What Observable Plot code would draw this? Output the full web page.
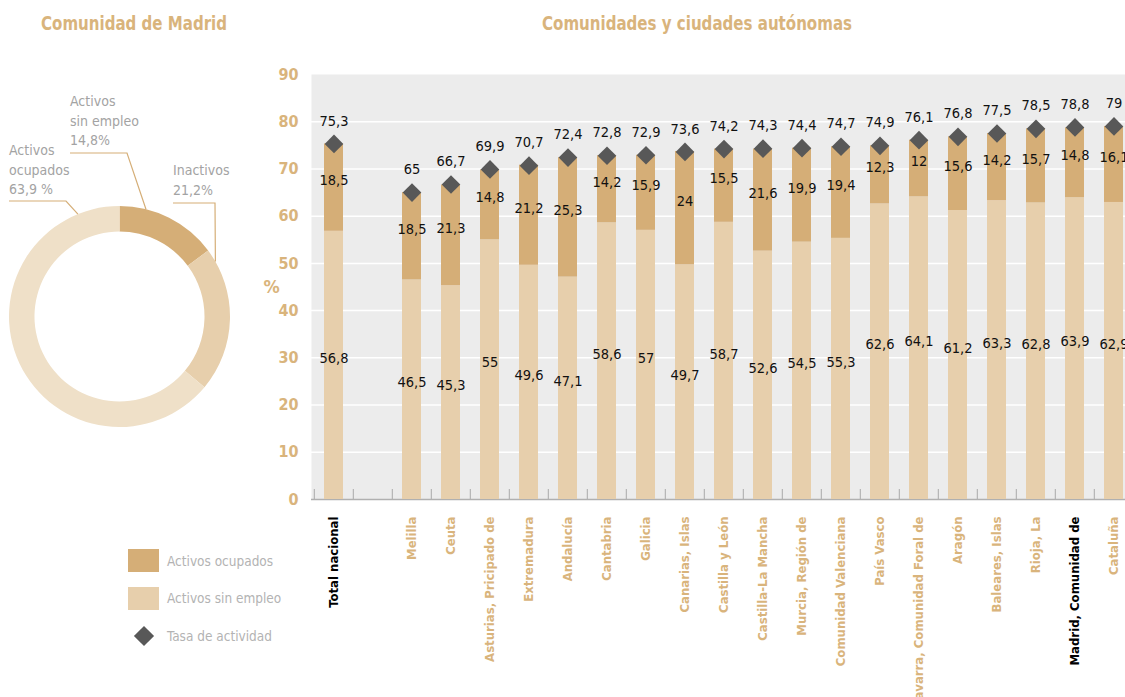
<!DOCTYPE html>
<html><head><meta charset="utf-8">
<script src="https://cdn.jsdelivr.net/npm/d3@7"></script>
<script src="https://cdn.jsdelivr.net/npm/@observablehq/plot@0.6"></script>
<style>
body{margin:0;background:#fff;}
#wrap{position:relative;width:1125px;height:697px;overflow:hidden;font-family:"Liberation Sans Narrow","Arial Narrow","DejaVu Sans Condensed",sans-serif;}
#chart{position:absolute;left:0;top:0;}
#overlay{position:absolute;left:0;top:0;}
</style></head><body>
<div id="wrap"><div id="chart"></div><svg id="overlay" width="1125" height="697"></svg></div>
<script>
// ---- data ----
const regions = ["Total nacional","Melilla","Ceuta","Asturias, Pricipado de","Extremadura","Andalucía","Cantabria","Galicia","Canarias, Islas","Castilla y León","Castilla-La Mancha","Murcia, Región de","Comunidad Valenciana","País Vasco","Navarra, Comunidad Foral de","Aragón","Baleares, Islas","Rioja, La","Madrid, Comunidad de","Cataluña"];
const ocupados  = [56.8,46.5,45.3,55,49.6,47.1,58.6,57,49.7,58.7,52.6,54.5,55.3,62.6,64.1,61.2,63.3,62.8,63.9,62.9];
const sinEmpleo = [18.5,18.5,21.3,14.8,21.2,25.3,14.2,15.9,24,15.5,21.6,19.9,19.4,12.3,12,15.6,14.2,15.7,14.8,16.1];
const tasa      = [75.3,65,66.7,69.9,70.7,72.4,72.8,72.9,73.6,74.2,74.3,74.4,74.7,74.9,76.1,76.8,77.5,78.5,78.8,79];
const highlighted = ["Total nacional","Madrid, Comunidad de"];
const GAP = " ";
const yTicks = [0,10,20,30,40,50,60,70,80,90];
const donutLabels = ["Activos sin empleo","Inactivos","Activos ocupados"];
const donutValues = [14.8,21.2,63.9];
const donutText = [["Activos","sin empleo","14,8%"],["Inactivos","21,2%"],["Activos","ocupados","63,9 %"]];
const legendLabels = ["Activos ocupados","Activos sin empleo","Tasa de actividad"];
const titles = ["Comunidad de Madrid","Comunidades y ciudades autónomas"];

// ---- style ----
const FONT = '"Liberation Sans Narrow","Arial Narrow","DejaVu Sans Condensed",sans-serif';
const TAN = "#d9b47c";
const DARK = "#d5ae77", LIGHT = "#e7cfac", LIGHTEST = "#efe0c8";
const fmt = v => String(v).replace(".", ",");

const xDomain = [regions[0], GAP, ...regions.slice(1)];
const rows = regions.flatMap((r,i)=>[
  {region:r, serie:"ocupados", value:ocupados[i]},
  {region:r, serie:"sin empleo", value:sinEmpleo[i]}
]);
const pts = regions.map((r,i)=>({region:r, tasa:tasa[i]}));
const W = 1136, ML = 311;
const step = (W - ML) / xDomain.length;

const chart = Plot.plot({
  width: W, height: 697,
  marginLeft: ML, marginRight: 0, marginTop: 74, marginBottom: 198,
  style: {maxWidth: "none", fontFamily: FONT, background: "transparent", overflow: "visible"},
  x: {domain: xDomain, paddingInner: 0.52, paddingOuter: 0.26, axis: null},
  y: {domain: [0, 90], axis: null},
  color: {domain: ["ocupados","sin empleo"], range: [LIGHT, DARK]},
  marks: [
    Plot.frame({fill: "#ececec", stroke: null}),
    Plot.gridY(yTicks.slice(1, -1), {stroke: "#fff", strokeOpacity: 1, strokeWidth: 1.5}),
    Plot.ruleX(xDomain, {x: d => d, dx: -step/2, y1: 0, y2: 2.1, stroke: "#b4b4b4", strokeWidth: 1.2}),
    Plot.ruleY([0], {stroke: "#b0b0b0", strokeWidth: 1.5}),
    Plot.barY(rows, {x: "region", y: "value", fill: "serie"}),
    Plot.text(rows, Plot.stackY({x: "region", y: "value", text: d => fmt(d.value), dy: -7, fontSize: 14.5, fill: "#111"})),
    Plot.dot(pts, {x: "region", y: "tasa", symbol: "diamond2", r: 8.4, fill: "#585858", stroke: null}),
    Plot.text(pts, {x: "region", y: "tasa", text: d => fmt(d.tasa), dy: -23, fontSize: 14.5, fill: "#111"}),
    Plot.axisY(yTicks, {tickSize: 0, tickPadding: 13, fontSize: 16, fontWeight: "bold", color: TAN, label: null}),
    Plot.text(["%"], {frameAnchor: "left", dx: -48, fontSize: 18, fontWeight: "bold", fill: TAN}),
    Plot.text(xDomain.filter(d => !highlighted.includes(d)), {x: d => d, frameAnchor: "bottom", dy: 17, rotate: -90, textAnchor: "end", lineAnchor: "middle", fontSize: 13, fontWeight: "bold", fill: TAN}),
    Plot.text(highlighted, {x: d => d, frameAnchor: "bottom", dy: 17, rotate: -90, textAnchor: "end", lineAnchor: "middle", fontSize: 13, fontWeight: "bold", fill: "#000"})
  ]
});
document.getElementById("chart").appendChild(chart);

// ---- overlay: titles, donut, legend ----
const svg = d3.select("#overlay").style("font-family", FONT);
svg.append("text").attr("x", 134).attr("y", 30).attr("text-anchor", "middle")
  .attr("font-size", 19).attr("font-weight", "bold").attr("fill", TAN)
  .attr("textLength", 186).attr("lengthAdjust", "spacingAndGlyphs").text(titles[0]);
svg.append("text").attr("x", 697).attr("y", 30).attr("text-anchor", "middle")
  .attr("font-size", 19).attr("font-weight", "bold").attr("fill", TAN)
  .attr("textLength", 310).attr("lengthAdjust", "spacingAndGlyphs").text(titles[1]);

const cx = 119.5, cy = 316.5, rOut = 110.5, rIn = 85;
const donutData = donutLabels.map((l,i)=>({label:l, value:donutValues[i]}));
const arcs = d3.pie().sort(null).value(d => d.value)(donutData);
const arc = d3.arc().innerRadius(rIn).outerRadius(rOut);
const donutColors = d3.scaleOrdinal(donutLabels, [DARK, LIGHT, LIGHTEST]);
const g = svg.append("g").attr("transform", `translate(${cx},${cy})`);
g.selectAll("path").data(arcs).join("path").attr("d", arc).attr("fill", d => donutColors(d.data.label));

// leader lines (annotation layout)
const onRing = (a) => [cx + rOut*Math.sin(a), cy - rOut*Math.cos(a)];
const frac = [0.26, 0.09, 0.904];
const textPos = [[70, 106], [173, 175], [9, 155]];
const elbows = [[[70,153],[127,153]], [[173,203],[215,203]], [[9,201],[66,201]]];
arcs.forEach((a,i) => {
  const end = onRing(a.startAngle + frac[i]*(a.endAngle - a.startAngle));
  const pts2 = [...elbows[i], end];
  svg.append("path").attr("d", d3.line()(pts2)).attr("fill", "none").attr("stroke", DARK).attr("stroke-width", 1.2);
  const t = svg.append("text").attr("x", textPos[i][0]).attr("y", textPos[i][1])
    .attr("font-size", 14).attr("fill", "#a3a3a3");
  donutText[i].forEach((line, j) => t.append("tspan").attr("x", textPos[i][0]).attr("dy", j ? 19.5 : 0).text(line));
});

// legend
const lg = svg.append("g");
lg.append("rect").attr("x",128).attr("y",549).attr("width",31).attr("height",23).attr("fill",DARK);
lg.append("rect").attr("x",128).attr("y",587).attr("width",31).attr("height",23).attr("fill",LIGHT);
lg.append("path").attr("transform","translate(144,636)").attr("d", d3.symbol(d3.symbolDiamond2, 260)()).attr("fill","#585858");
[561, 598, 636].forEach((y,i) => lg.append("text").attr("x",167).attr("y",y).attr("dy","0.35em")
  .attr("font-size",13.5).attr("fill","#b3b3b3").text(legendLabels[i]));
</script>
</body></html>
